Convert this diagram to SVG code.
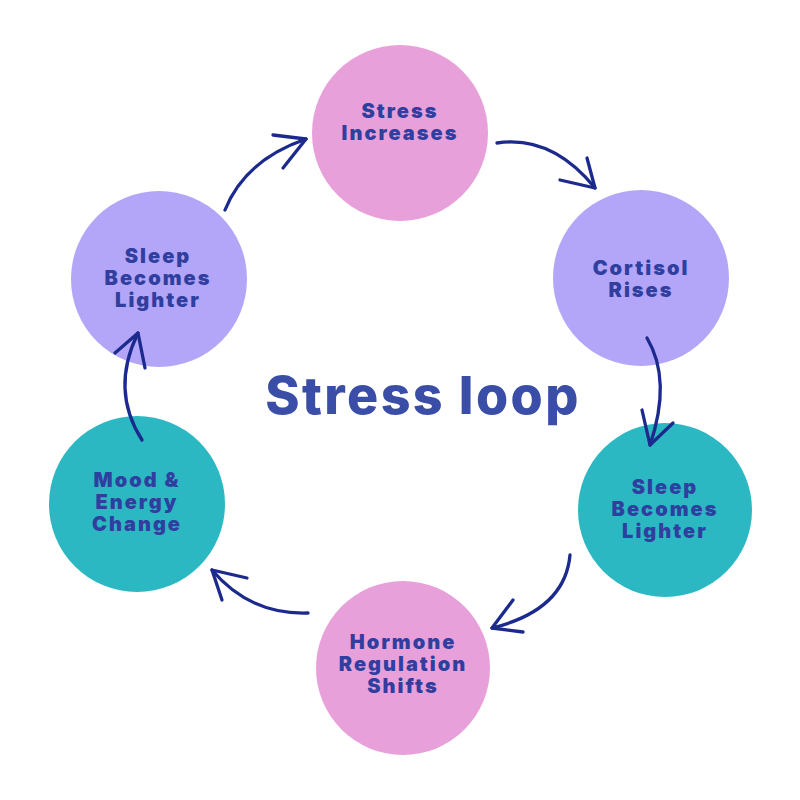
<svg xmlns="http://www.w3.org/2000/svg" width="800" height="800" viewBox="0 0 800 800">
<defs>
<style>
.lbl{font-family:Inter,"Open Sans","Liberation Sans",sans-serif;font-weight:900;font-size:20px;fill:#303f9f;text-anchor:middle;letter-spacing:2px}
.title{font-family:Inter,"Open Sans","Liberation Sans",sans-serif;font-weight:800;font-size:52px;fill:#3a4ea8;text-anchor:middle;letter-spacing:2.4px}
.pink{fill:#e8a0da}
.purple{fill:#b3a5f8}
.teal{fill:#2bb8c2}
.arr{fill:none;stroke:#1b2a8c;stroke-width:3.3;stroke-linecap:round;stroke-linejoin:round}
</style>
</defs>
<rect width="800" height="800" fill="#ffffff"/>
<g id="node-stress-increases">
<circle class="pink" cx="400" cy="133" r="88"/>
<text class="lbl" x="400" y="118">Stress</text>
<text class="lbl" x="400" y="140">Increases</text>
</g>
<g id="node-cortisol-rises">
<circle class="purple" cx="641" cy="278" r="88"/>
<text class="lbl" x="641" y="275">Cortisol</text>
<text class="lbl" x="641" y="297">Rises</text>
</g>
<g id="node-sleep-lighter-right">
<circle class="teal" cx="665" cy="510" r="87"/>
<text class="lbl" x="665" y="494">Sleep</text>
<text class="lbl" x="665" y="516">Becomes</text>
<text class="lbl" x="665" y="538">Lighter</text>
</g>
<g id="node-hormone">
<circle class="pink" cx="403" cy="668" r="87"/>
<text class="lbl" x="403" y="649">Hormone</text>
<text class="lbl" x="403" y="671">Regulation</text>
<text class="lbl" x="403" y="693">Shifts</text>
</g>
<g id="node-mood">
<circle class="teal" cx="137" cy="504" r="88"/>
<text class="lbl" x="137" y="487">Mood &amp;</text>
<text class="lbl" x="137" y="509">Energy</text>
<text class="lbl" x="137" y="531">Change</text>
</g>
<g id="node-sleep-lighter-left">
<circle class="purple" cx="159" cy="279" r="88"/>
<text class="lbl" x="158" y="263">Sleep</text>
<text class="lbl" x="158" y="285">Becomes</text>
<text class="lbl" x="158" y="307">Lighter</text>
</g>
<g id="title">
<text class="title" x="423" y="414">Stress loop</text>
</g>
<g id="connectors">
<path class="arr" d="M225,210 Q245,160 306,139"/>
<path class="arr" d="M273,135 L306,139 L283,168"/>
<path class="arr" d="M497,143 Q552,135 595,188"/>
<path class="arr" d="M587,158 L595,188 L560,180"/>
<path class="arr" d="M647,338 Q672,380 650,445"/>
<path class="arr" d="M642,410 L650,445 L673,423"/>
<path class="arr" d="M570,555 Q565,610 492,628"/>
<path class="arr" d="M513,600 L492,628 L523,632"/>
<path class="arr" d="M308,613 Q250,615 212,570"/>
<path class="arr" d="M247,578 L212,570 L222,600"/>
<path class="arr" d="M142,440 Q110,390 138,333"/>
<path class="arr" d="M115,353 L138,333 L145,368"/>
</g>
</svg>
